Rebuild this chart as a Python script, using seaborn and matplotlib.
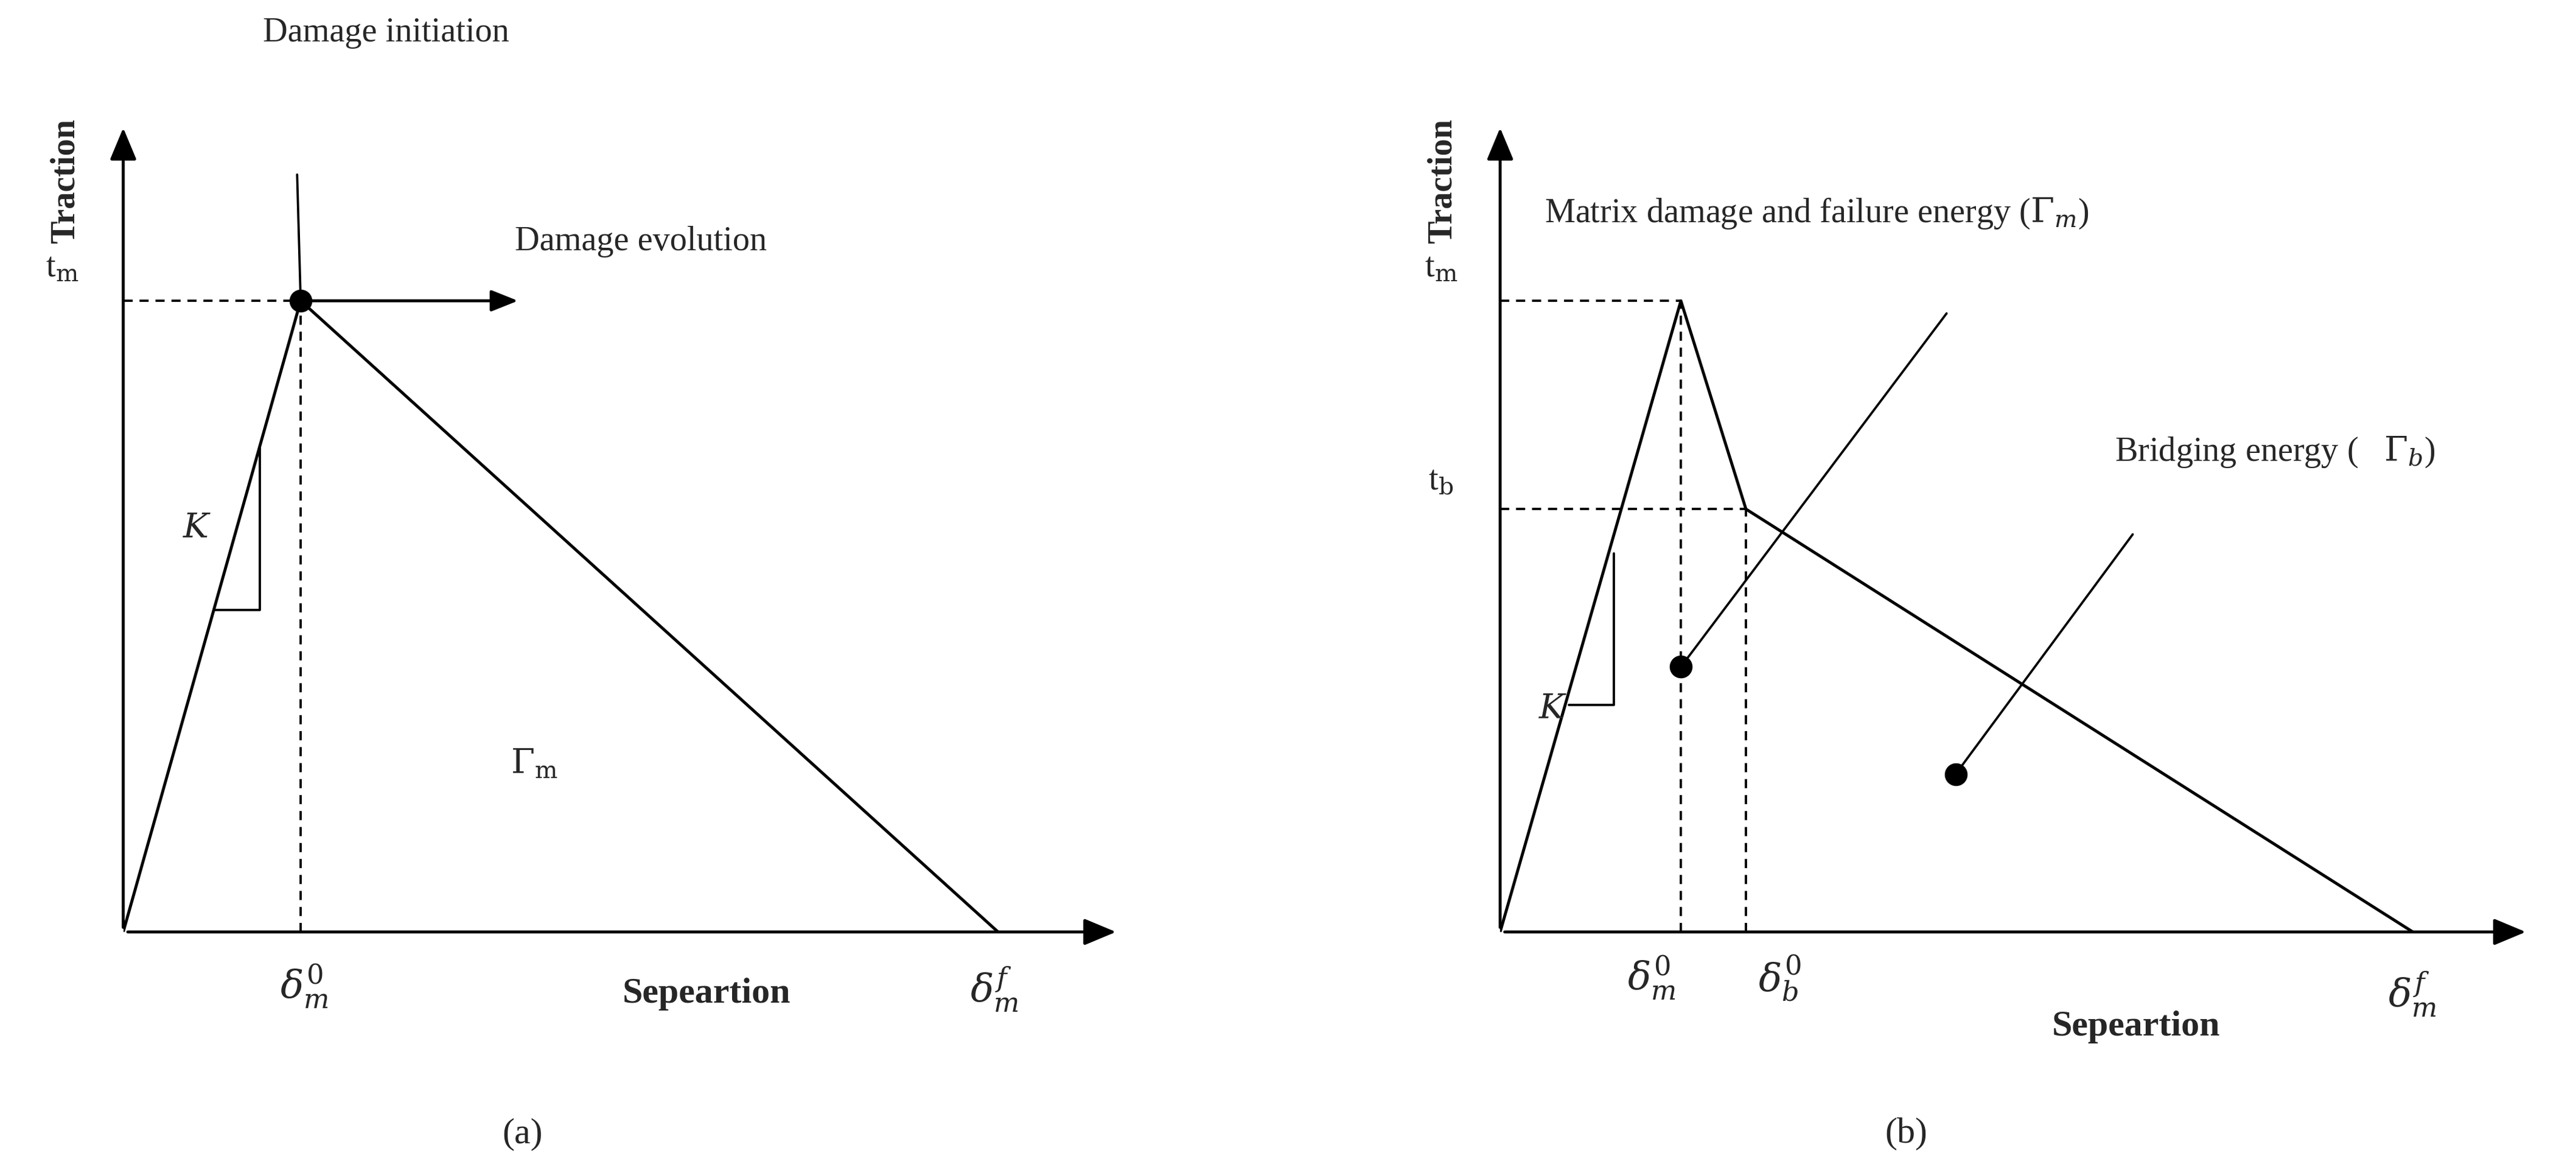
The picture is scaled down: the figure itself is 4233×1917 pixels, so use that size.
import numpy as np
import pandas as pd
import seaborn as sns
import matplotlib.pyplot as plt

sns.set_style('white')
plt.rcParams['font.family'] = ['Liberation Serif', 'DejaVu Serif']
plt.rcParams['mathtext.fontset'] = 'dejavuserif'

# traction-separation laws (normalised units)
sep_a = [0.0, 1.0, 4.93]
trac_a = [0.0, 1.0, 0.0]
sep_b = [0.0, 1.0, 1.36, 5.05]
trac_b = [0.0, 1.0, 0.67, 0.0]

W, H = 1568, 710
fig = plt.figure(figsize=(15.68, 7.10), dpi=270)


def fx(x, y):
    return x / W, 1 - y / H


def make_ax(left, right, top, origin_y, xscale):
    l, b = fx(left, origin_y)
    ax = fig.add_axes([l, b, (right - left) / W, (origin_y - top) / H])
    ax.set_xlim(0, (right - left) / xscale)
    ax.set_ylim(0, (origin_y - top) / 384)
    ax.axis('off')
    xm, ym = ax.get_xlim()[1], ax.get_ylim()[1]
    ax.annotate('', xy=(xm, 0), xytext=(0, 0),
                arrowprops=dict(arrowstyle='-|>,head_length=1.2,head_width=0.5', color='k', lw=1.3))
    ax.annotate('', xy=(0, ym), xytext=(0, 0),
                arrowprops=dict(arrowstyle='-|>,head_length=1.2,head_width=0.5', color='k', lw=1.3))
    return ax


kw = dict(color='k', lw=1.3)
dash = dict(color='k', lw=1.0, ls=(0, (4, 3)))

# panel (a)
ax = make_ax(75, 682, 75, 567, 108)
sns.lineplot(x=sep_a, y=trac_a, ax=ax, sort=False, **kw)
ax.plot([0, sep_a[1]], [1, 1], **dash)
ax.plot([sep_a[1], sep_a[1]], [0, 1], **dash)
ax.plot([0.51, 0.77, 0.77], [0.51, 0.51, 0.77], color='k', lw=1.0)
ax.plot([1.0, 0.98], [1.0, 1.2], color='k', lw=1.0)
ax.annotate('', xy=(2.25, 1.0), xytext=(1.0, 1.0),
            arrowprops=dict(arrowstyle='-|>,head_length=1.0,head_width=0.4', color='k', lw=1.3))
ax.plot([1.0], [1.0], 'o', color='k', ms=9)

# panel (b)
ax = make_ax(913, 1540, 75, 567, 110)
sns.lineplot(x=sep_b, y=trac_b, ax=ax, sort=False, **kw)
ax.plot([0, sep_b[1]], [1, 1], **dash)
ax.plot([0, sep_b[2]], [trac_b[2], trac_b[2]], **dash)
ax.plot([sep_b[1], sep_b[1]], [0, 1], **dash)
ax.plot([sep_b[2], sep_b[2]], [0, trac_b[2]], **dash)
ax.plot([0.38, 0.63, 0.63], [0.36, 0.36, 0.6], color='k', lw=1.0)
ax.plot([1.0, 2.47], [0.42, 0.98], color='k', lw=1.0)
ax.plot([2.52, 3.5], [0.25, 0.63], color='k', lw=1.0)
ax.plot([1.0, 2.52], [0.42, 0.25], 'o', color='k', ms=9)

fs = 15
def t(x, y, s, **k):
    fig.text(*fx(x, y), s, fontsize=k.pop('fontsize', fs), ha=k.pop('ha', 'center'),
             va=k.pop('va', 'center'), **k)

for ox in (40, 878):
    t(ox, 110, 'Traction', rotation=90, fontweight='bold')
t(430, 605, 'Sepeartion', fontweight='bold', fontsize=16)
t(1300, 625, 'Sepeartion', fontweight='bold', fontsize=16)
t(185, 600, r'$\delta_m^0$', fontsize=17)
t(605, 602, r'$\delta_m^f$', fontsize=17)
t(1005, 595, r'$\delta_m^0$', fontsize=17)
t(1083, 595, r'$\delta_b^0$', fontsize=17)
t(1468, 605, r'$\delta_m^f$', fontsize=17)
t(38, 163, r't$_\mathrm{m}$')
t(877, 163, r't$_\mathrm{m}$')
t(877, 293, r't$_\mathrm{b}$')
t(120, 322, r'$K$')
t(945, 432, r'$K$')
t(325, 465, r'$\Gamma_\mathrm{m}$')
t(235, 20, 'Damage initiation')
t(390, 147, 'Damage evolution')
t(940, 130, r'Matrix damage and failure energy ($\Gamma_m$)', ha='left')
t(1287, 275, r'Bridging energy (   $\Gamma_b$)', ha='left')
t(318, 690, '(a)', fontsize=16)
t(1160, 690, '(b)', fontsize=16)

fig.savefig('out.png', dpi=270, facecolor='white')
